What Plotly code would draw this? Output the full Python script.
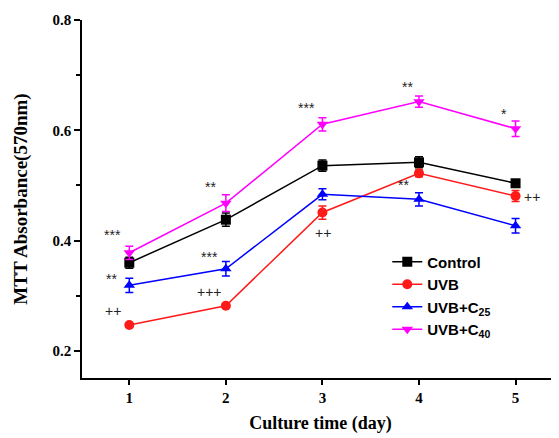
import plotly.graph_objects as go

days = [1, 2, 3, 4, 5]
control = [0.360, 0.438, 0.536, 0.542, 0.504]
control_err = [0.010, 0.012, 0.010, 0.010, 0.005]
uvb = [0.247, 0.282, 0.451, 0.522, 0.481]
uvb_err = [0.003, 0.003, 0.012, 0.006, 0.010]
c25 = [0.319, 0.349, 0.484, 0.475, 0.427]
c25_err = [0.013, 0.013, 0.010, 0.012, 0.013]
c40 = [0.378, 0.468, 0.611, 0.652, 0.603]
c40_err = [0.012, 0.015, 0.012, 0.010, 0.014]

# significance marks: (day, value, text, xshift, yshift)
sig_marks = [
    (1, 0.378, "***", -17, 18),
    (1, 0.319, "**", -18, 6),
    (1, 0.247, "++", -16, 14),
    (2, 0.468, "**", -15, 16),
    (2, 0.349, "***", -16, 12),
    (2, 0.282, "+++", -16, 14),
    (3, 0.611, "***", -16, 16),
    (3, 0.451, "++", 1, -20),
    (4, 0.652, "**", -11, 15),
    (4, 0.475, "**", -15, 14),
    (5, 0.603, "*", -12, 15),
    (5, 0.481, "++", 16, -1),
]

series = [
    ("Control", control, control_err, "#000000", "square"),
    ("UVB", uvb, uvb_err, "#ff1a1a", "circle"),
    ("UVB+C<sub>25</sub>", c25, c25_err, "#0000ff", "triangle-up"),
    ("UVB+C<sub>40</sub>", c40, c40_err, "#ff00ff", "triangle-down"),
]

fig = go.Figure()
for name, vals, errs, color, sym in series:
    fig.add_trace(go.Scatter(
        x=days, y=vals, name="<b>%s</b>" % name, mode="lines+markers",
        line=dict(color=color, width=1.5),
        marker=dict(symbol=sym, size=10, color=color),
        error_y=dict(type="data", array=errs, visible=True, color=color,
                     thickness=1.5, width=4),
    ))

for d, v, t, xs, ys in sig_marks:
    fig.add_annotation(x=d, y=v, text=t, showarrow=False, xshift=xs, yshift=ys,
                       font=dict(family="Liberation Sans, Arial", size=14, color="#222222"))

serif = "Liberation Serif, Times New Roman"
axis_font = dict(family=serif, size=15, color="black")
fig.update_layout(
    width=551, height=430,
    margin=dict(l=74, r=0, t=12, b=60),
    plot_bgcolor="white", paper_bgcolor="white",
    showlegend=True,
    legend=dict(x=0.64, y=0.37, xanchor="left", yanchor="top",
                font=dict(family="Liberation Sans, Arial", size=15, color="black"),
                bgcolor="rgba(0,0,0,0)", tracegroupgap=2),
    xaxis=dict(range=[0.51, 5.45], tickvals=days, ticktext=["<b>%d</b>" % d for d in days],
               showline=True, linecolor="black", linewidth=1.5, ticks="outside",
               ticklen=5, tickwidth=1.5, tickcolor="black", showgrid=False, zeroline=False,
               tickfont=axis_font,
               title=dict(text="<b>Culture time (day)</b>", font=dict(family=serif, size=18, color="black"), standoff=12)),
    yaxis=dict(range=[0.151, 0.8], tickvals=[0.2, 0.4, 0.6, 0.8],
               ticktext=["<b>0.2</b>", "<b>0.4</b>", "<b>0.6</b>", "<b>0.8</b>"],
               showline=True, linecolor="black", linewidth=1.5, ticks="outside",
               ticklen=6, tickwidth=1.5, tickcolor="black", showgrid=False, zeroline=False,
               tickfont=axis_font,
               minor=dict(tickvals=[0.3, 0.5, 0.7], ticks="outside", ticklen=4, tickwidth=1.5, tickcolor="black"),
               title=dict(text="<b>MTT Absorbance(570nm)</b>", font=dict(family=serif, size=19, color="black"), standoff=20)),
)

fig.write_html("out.html")
